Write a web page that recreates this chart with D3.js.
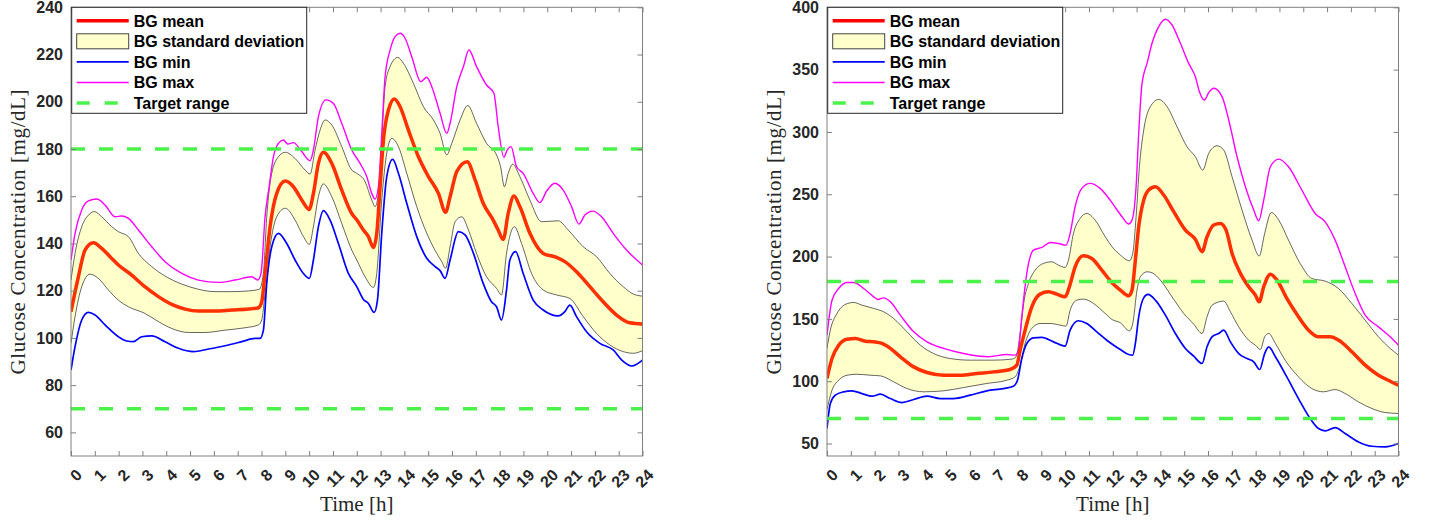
<!DOCTYPE html>
<html>
<head>
<meta charset="utf-8">
<script src="https://cdn.jsdelivr.net/npm/d3@7"></script>
<style>
  body { margin: 0; background: #fff; }
  svg { display: block; }
</style>
</head>
<body>
<svg width="1429" height="520"></svg>
<script>
// DATA - [hour, mg/dL]

// left panel
const leftMean = [[0,111.1],[0.31,125.9],[0.59,137.2],[0.94,140.3],[1.29,137.9],[1.64,134.4],[1.99,130.9],[2.55,126.6],[3.1,121.7],[3.67,117.5],[4.23,114.2],[4.79,112.2],[5.35,111.4],[6.05,111.4],[6.75,111.8],[7.45,112.2],[7.87,112.8],[8.01,115.3],[8.15,127.3],[8.36,147.1],[8.64,161.2],[9.0,166.4],[9.34,164],[9.69,158.4],[10.0,154.4],[10.18,161.2],[10.39,173.9],[10.6,178.6],[10.95,173.9],[11.37,162.6],[11.79,152.7],[12.0,150],[12.28,145.7],[12.49,142.9],[12.7,138.3],[12.84,144.3],[12.98,164],[13.12,183.8],[13.33,196.5],[13.58,201.2],[13.82,197.9],[14.17,188],[14.59,176.7],[15.01,168.3],[15.43,161.2],[15.73,153.2],[15.92,159.8],[16.2,170.4],[16.64,174.6],[16.97,166.9],[17.31,157],[17.73,149.9],[17.94,145.7],[18.15,141.7],[18.36,152.7],[18.6,160.1],[18.85,155.6],[19.27,144.3],[19.83,135.8],[20.39,134.1],[20.74,132.3],[21.23,128],[21.79,121.7],[22.35,115.3],[22.91,109.7],[23.47,106.4],[24,105.9]];
const leftSdUpper = [[0,124.5],[0.17,135.8],[0.45,147.1],[0.73,152],[0.98,153.5],[1.29,151.3],[1.71,147.1],[1.99,145],[2.41,142.9],[2.83,135.8],[3.39,130.2],[3.95,126.2],[4.65,122.8],[5.35,120.6],[6.05,119.6],[6.75,119.6],[7.45,119.9],[7.91,120.6],[8.08,127.3],[8.22,151.3],[8.43,169.7],[8.71,176.7],[9.0,178.6],[9.41,176],[9.83,171.1],[10.04,169.4],[10.25,179.6],[10.46,188],[10.67,192.3],[10.95,190.2],[11.37,181],[11.79,171.1],[12.0,169.7],[12.35,166.2],[12.63,158.4],[12.77,155.6],[12.91,161.2],[13.05,183.8],[13.19,206.4],[13.4,214.9],[13.72,218.8],[13.96,216.3],[14.38,207.8],[14.8,197.9],[15.22,192.3],[15.5,186.6],[15.78,177.5],[15.99,182.4],[16.34,192.3],[16.66,198.4],[17.03,190.9],[17.45,182.4],[17.87,177.5],[18.04,172.5],[18.2,164],[18.36,169.7],[18.55,173.6],[18.85,168.3],[19.27,158.4],[19.76,149.2],[20.46,149.6],[20.88,145.7],[21.51,138.6],[22.07,134.4],[22.63,127.3],[23.19,121.7],[23.61,118.6],[24,117.7]];
const leftSdLower = [[0,97.7],[0.17,109],[0.45,121.7],[0.8,127],[1.15,125.2],[1.57,120.3],[1.99,116],[2.41,113.2],[3.1,110.4],[3.67,106.9],[4.23,104],[4.93,102.3],[5.63,102.3],[6.47,103.3],[7.31,104.3],[7.87,105.5],[8.01,107.6],[8.15,118.9],[8.36,138.6],[8.64,151.3],[9.0,154.9],[9.41,149.9],[9.76,142.9],[10.01,139.6],[10.18,147.1],[10.39,159.8],[10.6,165.2],[10.95,159.8],[11.37,148.5],[11.79,137.2],[12.0,133],[12.35,125.9],[12.7,121.4],[12.84,127.3],[13.05,158.4],[13.26,178.2],[13.47,184.5],[13.75,181],[14.1,169.7],[14.52,155.6],[14.94,144.3],[15.36,135.8],[15.57,132.3],[15.73,129.5],[15.92,138.6],[16.13,149.2],[16.41,151.3],[16.69,145.7],[17.03,135.8],[17.45,125.9],[17.87,121],[18.08,118.2],[18.29,135.8],[18.62,147.1],[18.92,140],[19.34,127.3],[19.83,120.3],[20.39,118.2],[20.95,116.7],[21.51,109],[22.07,101.9],[22.63,97],[23.19,94.2],[23.61,93.5],[24,94.6]];
const leftMax = [[0,133],[0.17,144.3],[0.45,154.2],[0.73,158],[1.08,158.8],[1.43,156.3],[1.85,151.3],[2.13,151.6],[2.41,150.6],[2.83,145.7],[3.39,138.6],[3.95,132.3],[4.65,127.3],[5.35,124.5],[6.19,123.5],[6.89,124.5],[7.59,125.9],[7.84,124.5],[7.98,127.3],[8.15,151.3],[8.32,164],[8.5,176.7],[8.71,182.4],[8.92,183.8],[9.1,182.1],[9.34,182.7],[9.69,178.9],[10.04,175],[10.18,179.6],[10.39,193.7],[10.71,200.8],[11.02,199.3],[11.37,190.9],[11.79,179.6],[12.14,173.9],[12.42,168.3],[12.63,161.2],[12.77,158.8],[12.91,164],[13.05,186.6],[13.19,210.6],[13.4,221.9],[13.61,227.6],[13.82,229],[14.03,226.9],[14.31,219.1],[14.69,208.5],[14.94,210.4],[15.15,206.4],[15.5,195.1],[15.78,186.6],[15.92,190.9],[16.2,206.4],[16.48,214.9],[16.71,221.9],[17.03,214.9],[17.45,207.1],[17.76,203.6],[17.94,189.5],[18.18,176.5],[18.32,179.6],[18.48,181],[18.71,172.5],[18.99,169.7],[19.41,161.2],[19.69,157.3],[19.97,162.1],[20.32,165.5],[20.67,162.6],[21.02,155.6],[21.33,148.2],[21.58,152],[21.92,153.7],[22.28,151.3],[22.77,144.3],[23.33,137.2],[24,130.9]];
const leftMin = [[0,86.4],[0.17,96.3],[0.45,107.6],[0.73,110.8],[1.01,109.7],[1.43,105.5],[1.99,100.5],[2.34,98.7],[2.62,98.4],[2.97,100.5],[3.39,100.9],[3.95,98.4],[4.51,95.6],[5.14,94.2],[5.77,95.3],[6.47,96.7],[7.17,98.4],[7.73,99.8],[7.94,99.8],[8.08,103.3],[8.22,123.1],[8.43,138.6],[8.71,144.3],[9.06,140],[9.41,133],[9.76,127.3],[10.01,125.2],[10.18,133],[10.39,147.1],[10.6,153.9],[10.88,149.9],[11.23,140],[11.65,127.3],[12.0,121.7],[12.28,116.3],[12.49,114.6],[12.73,110.8],[12.87,116],[13.05,144.3],[13.26,168.3],[13.51,175.6],[13.75,169.7],[14.1,157],[14.52,142.9],[14.94,133.7],[15.29,130.2],[15.5,128.5],[15.71,125.2],[15.92,133],[16.27,145],[16.55,143.6],[16.9,135.8],[17.31,123.1],[17.66,115.3],[17.87,113.2],[18.08,107.6],[18.29,120.3],[18.43,133],[18.67,136.5],[18.99,127.3],[19.41,116],[19.83,111.8],[20.46,109.3],[20.74,111.1],[20.95,113.9],[21.23,109],[21.65,102.6],[22.21,97.7],[22.77,94.9],[23.13,90.6],[23.55,88.1],[24,90.6]];

// right panel
const rightMean = [[0,102.2],[0.21,118.2],[0.49,128.9],[0.84,133.7],[1.19,134.3],[1.61,132.1],[1.96,131.6],[2.31,130.3],[2.66,126.3],[3.08,119.6],[3.64,111.5],[4.2,107],[4.9,104.8],[5.59,104.8],[6.29,106.2],[6.99,107.5],[7.69,109.4],[7.97,112.9],[8.11,124.9],[8.32,141],[8.6,159.7],[8.95,169.9],[9.3,171.7],[9.65,169.9],[10,167.7],[10.18,175.8],[10.42,191.8],[10.77,200.6],[11.12,198.5],[11.54,189.1],[11.97,179],[12.32,173.1],[12.67,168.5],[12.81,173.1],[12.95,197.2],[13.09,223.9],[13.3,245.3],[13.51,253.4],[13.79,256],[14.14,249.4],[14.56,236],[15.05,221.2],[15.47,213.8],[15.75,203.9],[15.96,215.9],[16.24,225.3],[16.52,226.6],[16.76,221.2],[17.01,202.5],[17.36,186.5],[17.71,175.8],[17.99,169.1],[18.15,163.7],[18.34,175.8],[18.62,185.9],[18.9,181.1],[19.31,166.4],[19.8,151.7],[20.22,141],[20.64,135.6],[21.13,135.6],[21.48,133],[22.04,123.6],[22.6,112.9],[23.16,104.8],[23.65,100],[24,96.8]];
const rightSdUpper = [[0,126.3],[0.14,141],[0.42,154.4],[0.77,161.6],[1.12,163.2],[1.47,161],[1.96,158.4],[2.38,155.7],[2.8,150.3],[3.36,139.6],[3.92,128.9],[4.48,122.2],[5.17,118.2],[6.01,116.9],[6.99,116.9],[7.76,117.7],[7.94,119.6],[8.11,138.3],[8.28,165],[8.46,178.4],[8.74,189.1],[9.09,194.5],[9.44,195.8],[9.72,193.1],[10,191.3],[10.14,197.2],[10.35,218.6],[10.63,230.6],[10.91,234.6],[11.26,229.3],[11.68,216],[11.97,207.9],[12.32,201.2],[12.7,196.6],[12.84,202.5],[12.98,232],[13.12,272.1],[13.3,301.5],[13.58,320.3],[13.93,326.1],[14.28,320.3],[14.7,304.2],[15.12,288.1],[15.47,280.1],[15.78,269.4],[16.03,282.8],[16.38,288.9],[16.66,285.5],[17.01,264.1],[17.43,237.3],[17.85,213.2],[18.15,200.4],[18.38,218.6],[18.66,235.4],[18.97,229.3],[19.38,213.2],[19.87,194.5],[20.36,182.4],[20.92,180.3],[21.48,174.4],[22.04,162.4],[22.6,149],[23.16,135.6],[23.65,126.3],[24,120.9]];
const rightSdLower = [[0,77.3],[0.21,92.8],[0.49,100.8],[0.84,104.8],[1.26,105.6],[1.82,104.8],[2.24,104.3],[2.8,99.5],[3.36,94.1],[4.06,91.5],[4.9,92.3],[5.73,94.9],[6.71,98.2],[7.55,100.8],[7.9,103.5],[8.11,112.9],[8.32,130.3],[8.6,142.3],[8.95,146.3],[9.37,146.3],[9.79,145],[10.04,144.2],[10.21,157],[10.49,165],[10.77,165.9],[11.19,162.4],[11.68,154.4],[11.97,149.5],[12.32,146.9],[12.7,140.4],[12.84,146.3],[13.02,173.1],[13.16,183.8],[13.44,187.8],[13.65,187],[14,181.1],[14.49,167.7],[14.98,154.4],[15.4,145.8],[15.75,138.3],[15.96,151.7],[16.17,161],[16.66,164.3],[16.94,155.7],[17.29,143.6],[17.71,132.9],[17.99,128.9],[18.2,125.4],[18.38,135.6],[18.55,138.3],[18.83,130.3],[19.24,116.9],[19.8,103.5],[20.36,94.1],[20.85,91.5],[21.34,93.3],[21.76,90.1],[22.32,83.4],[22.88,78.1],[23.44,74.9],[24,74.1]];
const rightMax = [[0,137],[0.21,165],[0.49,174.4],[0.84,179.2],[1.12,179.2],[1.54,174.4],[1.96,167.7],[2.13,165.6],[2.38,166.9],[2.66,163.7],[3.08,153],[3.64,139.6],[4.2,131.6],[4.9,126.3],[5.73,122.2],[6.78,119.6],[7.55,121.4],[7.9,120.9],[8.04,124.9],[8.18,151.7],[8.39,186.5],[8.67,205.2],[9.02,207.3],[9.37,211.3],[9.72,210.5],[10.04,209.2],[10.21,218.6],[10.42,240],[10.7,254.7],[11.05,258.7],[11.47,254.7],[11.89,245.3],[12.04,241.3],[12.39,232],[12.67,226.1],[12.81,229.3],[12.98,256],[13.09,298.8],[13.23,339],[13.44,355],[13.65,371.1],[13.93,384.5],[14.21,390.4],[14.49,385.8],[14.84,371.1],[15.19,355],[15.47,344.3],[15.64,332.3],[15.85,325.6],[16.03,331.5],[16.24,335],[16.59,328.3],[16.87,309.6],[17.22,280.1],[17.57,256],[17.92,237.3],[18.13,228.7],[18.34,245.3],[18.62,272.1],[18.97,278.2],[19.38,272.1],[19.94,253.4],[20.5,234.6],[20.92,227.9],[21.34,213.2],[21.76,191.8],[22.18,170.4],[22.6,153],[23.16,143.6],[23.65,135.6],[24,128.9]];
const rightMin = [[0,62],[0.14,82.1],[0.35,88.8],[0.7,91.5],[1.05,92.3],[1.47,90.1],[1.89,88],[2.24,89.6],[2.66,86.1],[3.15,82.9],[3.64,85.3],[4.2,88],[4.76,86.1],[5.31,86.1],[6.01,88.8],[6.71,92.3],[7.41,94.1],[7.83,96],[8,100.8],[8.18,118.2],[8.39,130.3],[8.67,134.8],[9.02,135.1],[9.51,131.6],[10,128.1],[10.21,141],[10.56,148.5],[10.91,146.3],[11.33,139.6],[11.75,132.9],[12.04,128.9],[12.32,125.4],[12.67,121.4],[12.84,120.9],[12.95,130.3],[13.09,151.7],[13.3,166.9],[13.48,169.6],[13.79,165],[14.21,153],[14.63,138.3],[15.05,126.3],[15.4,120.1],[15.75,114.2],[15.96,127.6],[16.17,135.6],[16.45,138.3],[16.66,141],[16.94,131.6],[17.29,122.2],[17.64,118.2],[17.92,115.6],[18.17,109.4],[18.38,122.2],[18.55,127.6],[18.83,119.6],[19.31,103.5],[19.8,86.1],[20.29,70.1],[20.64,62],[20.92,60.2],[21.34,62.8],[21.76,58],[22.32,51.3],[22.88,47.8],[23.44,47.3],[24,50]];

// axes / legend
const hourTicks = d3.range(0, 25);
const leftYTicks = [60, 80, 100, 120, 140, 160, 180, 200, 220, 240];
const rightYTicks = [50, 100, 150, 200, 250, 300, 350, 400];
const targetRange = [70, 180];
const legendLabels = ["BG mean", "BG standard deviation", "BG min", "BG max", "Target range"];

const svg = d3.select("svg");

// CONSTANTS
const plotTop = 7.3, plotBottom = 456, plotW = 571.5;
const tickFont = "'Liberation Sans', Arial, sans-serif";
const labelFont = "'Liberation Serif', 'Times New Roman', serif";
const ink = "#262626";

const panels = [
  { left: 71, yDomain: [50, 240], yTicks: leftYTicks,
    mean: leftMean, up: leftSdUpper, low: leftSdLower, max: leftMax, min: leftMin },
  { left: 827, yDomain: [40, 400], yTicks: rightYTicks,
    mean: rightMean, up: rightSdUpper, low: rightSdLower, max: rightMax, min: rightMin }
];

panels.forEach((p, idx) => drawPanel(p, idx));

function drawPanel(p, idx) {
  const x = d3.scaleLinear().domain([0, 24]).range([p.left, p.left + plotW]);
  const y = d3.scaleLinear().domain(p.yDomain).range([plotBottom, plotTop]);

  const line = d3.line()
    .x(d => x(d[0]))
    .y(d => y(d[1]))
    .curve(d3.curveMonotoneX);

  const clipId = "clip" + idx;
  svg.append("clipPath").attr("id", clipId)
    .append("rect")
    .attr("x", p.left).attr("y", plotTop)
    .attr("width", plotW).attr("height", plotBottom - plotTop);

  const g = svg.append("g").attr("clip-path", `url(#${clipId})`);

  // std band: upper forward, lower backwards
  const lowRev = p.low.slice().reverse();
  const bandPath = line(p.up) + line(lowRev).replace(/^M/, "L") + "Z";
  g.append("path").attr("d", bandPath).attr("fill", "#ffffcc").attr("stroke", "none");
  g.append("path").attr("d", line(p.up)).attr("fill", "none").attr("stroke", "#000").attr("stroke-width", 0.6);
  g.append("path").attr("d", line(p.low)).attr("fill", "none").attr("stroke", "#000").attr("stroke-width", 0.6);

  g.append("path").attr("d", line(p.min)).attr("fill", "none").attr("stroke", "#0000ff").attr("stroke-width", 1.7);
  g.append("path").attr("d", line(p.max)).attr("fill", "none").attr("stroke", "#ff00ff").attr("stroke-width", 1.4);
  g.append("path").attr("d", line(p.mean)).attr("fill", "none").attr("stroke", "#ff3000").attr("stroke-width", 3.5);

  g.selectAll(".target")
    .data(targetRange)
    .enter()
    .append("line")
    .attr("x1", p.left).attr("x2", p.left + plotW)
    .attr("y1", d => y(d)).attr("y2", d => y(d))
    .attr("stroke", "#4cf24c")
    .attr("stroke-width", 3.5)
    .attr("stroke-dasharray", "14,14");

  // frame
  svg.append("rect")
    .attr("x", p.left).attr("y", plotTop)
    .attr("width", plotW).attr("height", plotBottom - plotTop)
    .attr("fill", "none").attr("stroke", "#808080").attr("stroke-width", 1);

  // AXES (inward ticks like matlab)
  const styleAxis = sel => {
    sel.select(".domain").remove();
    sel.selectAll(".tick line").attr("stroke", "#808080");
    sel.selectAll("text")
      .attr("fill", ink)
      .style("font-family", tickFont)
      .style("font-weight", "bold")
      .style("font-size", "16px");
  };

  svg.append("g")
    .attr("transform", `translate(${p.left},0)`)
    .call(d3.axisLeft(y).tickValues(p.yTicks).tickSizeInner(-5).tickSizeOuter(0).tickPadding(8))
    .call(styleAxis);

  svg.append("g")
    .attr("transform", `translate(${p.left + plotW},0)`)
    .call(d3.axisRight(y).tickValues(p.yTicks).tickSizeInner(-5).tickSizeOuter(0).tickFormat(""))
    .call(styleAxis);

  svg.append("g")
    .attr("transform", `translate(0,${plotTop})`)
    .call(d3.axisTop(x).tickValues(hourTicks).tickSizeInner(-5).tickSizeOuter(0).tickFormat(""))
    .call(styleAxis);

  const xAxis = svg.append("g")
    .attr("transform", `translate(0,${plotBottom})`)
    .call(d3.axisBottom(x).tickValues(hourTicks).tickSizeInner(-5).tickSizeOuter(0))
    .call(styleAxis);

  xAxis.selectAll(".tick text")
    .attr("x", 0).attr("y", 0).attr("dy", null)
    .attr("text-anchor", "end")
    .attr("transform", "translate(11.5,20) rotate(-45)");

  // axis titles
  svg.append("text")
    .attr("x", p.left + plotW / 2).attr("y", 510.5)
    .attr("text-anchor", "middle")
    .attr("fill", ink)
    .style("font-family", labelFont)
    .style("font-size", "21px")
    .text("Time [h]");

  svg.append("text")
    .attr("transform", `translate(${p.left - 46},${(plotTop + plotBottom) / 2}) rotate(-90)`)
    .attr("text-anchor", "middle")
    .attr("fill", ink)
    .style("font-family", labelFont)
    .style("font-size", "21px")
    .style("letter-spacing", "0.6px")
    .text("Glucose Concentration [mg/dL]");

  // LEGEND
  const lg = svg.append("g").attr("transform", `translate(${p.left + 0.7},${plotTop})`);
  lg.append("rect")
    .attr("width", 235).attr("height", 106)
    .attr("fill", "#fff").attr("stroke", ink).attr("stroke-width", 1);

  const rowY = i => 13.4 + i * 20.6;
  const item = lg.selectAll(".item")
    .data(legendLabels)
    .enter()
    .append("g")
    .attr("transform", (d, i) => `translate(0,${rowY(i)})`);

  item.append("text")
    .attr("x", 62).attr("y", 5.9)
    .attr("fill", "#000")
    .style("font-family", tickFont)
    .style("font-weight", "bold")
    .style("font-size", "16px")
    .text(d => d);

  item.each(function(d, i) {
    const s = d3.select(this);
    if (i === 1) {
      s.append("rect").attr("x", 5).attr("y", -7.5).attr("width", 52).attr("height", 15)
        .attr("fill", "#ffffcc").attr("stroke", "#444").attr("stroke-width", 1);
    } else {
      const col = ["#ff0000", null, "#0000ff", "#ff00ff", "#4cf24c"][i];
      const w = [3.5, 0, 1.7, 1.4, 3.5][i];
      s.append("line").attr("x1", 5).attr("x2", i === 4 ? 47 : 57)
        .attr("stroke", col).attr("stroke-width", w)
        .attr("stroke-dasharray", i === 4 ? "13,15" : null);
    }
  });
}
</script>
</body>
</html>
